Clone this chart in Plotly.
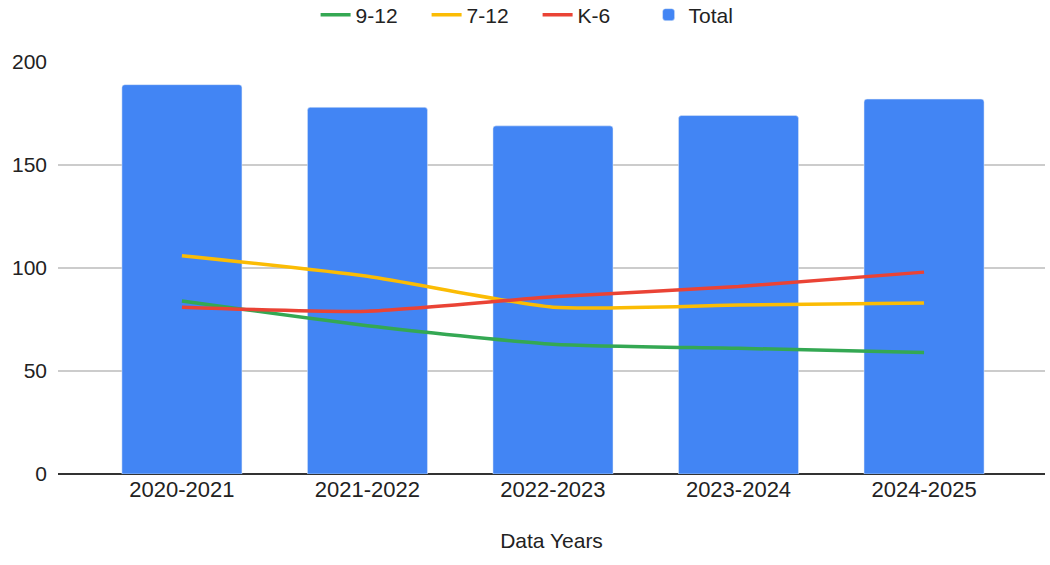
import plotly.graph_objects as go

years = ["2020-2021", "2021-2022", "2022-2023", "2023-2024", "2024-2025"]
total = [189, 178, 169, 174, 182]
grade_9_12 = [84, 72, 63, 61, 59]
grade_7_12 = [106, 96, 81, 82, 83]
grade_k_6 = [81, 79, 86, 91, 98]

x_idx = list(range(len(years)))

fig = go.Figure()
fig.add_trace(go.Bar(x=x_idx, y=total, name="Total", marker=dict(color="#4285F4", cornerradius=3),
                     width=0.647, legendrank=4))
fig.add_trace(go.Scatter(x=x_idx, y=grade_9_12, name="9-12", mode="lines", legendrank=1,
                         line=dict(color="#34A853", width=3.5, shape="spline", smoothing=0.6)))
fig.add_trace(go.Scatter(x=x_idx, y=grade_7_12, name="7-12", mode="lines", legendrank=2,
                         line=dict(color="#FBBC04", width=3.5, shape="spline", smoothing=0.6)))
fig.add_trace(go.Scatter(x=x_idx, y=grade_k_6, name="K-6", mode="lines", legendrank=3,
                         line=dict(color="#EA4335", width=3.5, shape="spline", smoothing=0.6)))

fig.update_layout(
    width=1050, height=565,
    margin=dict(l=58, r=5, t=62, b=91, autoexpand=False),
    plot_bgcolor="white", paper_bgcolor="white",
    font=dict(family="Liberation Sans, Arial, sans-serif", size=21, color="#222222"),
    showlegend=True,
    legend=dict(orientation="h", xref="container", x=0.512, xanchor="center",
                yref="container", y=1 - 15 / 565, yanchor="middle",
                font=dict(size=21), itemwidth=30, entrywidth=66, entrywidthmode="pixels"),
    xaxis=dict(tickmode="array", tickvals=x_idx, ticktext=years, range=[-0.668, 4.652],
               showgrid=False, showline=False, zeroline=False, ticks="",
               automargin=False, tickfont=dict(size=22),
               title=dict(text="Data Years", font=dict(size=21), standoff=32)),
    yaxis=dict(range=[0, 200], tickvals=[0, 50, 100, 150, 200], showgrid=True,
               gridcolor="#CCCCCC", gridwidth=1.5, zeroline=True, zerolinecolor="#333333",
               zerolinewidth=1.5, ticks="", showline=False, ticklabelstandoff=10,
               automargin=False),
)

fig.write_html("out.html", config={"displayModeBar": False},
               post_script="document.body.style.margin='0px';")
